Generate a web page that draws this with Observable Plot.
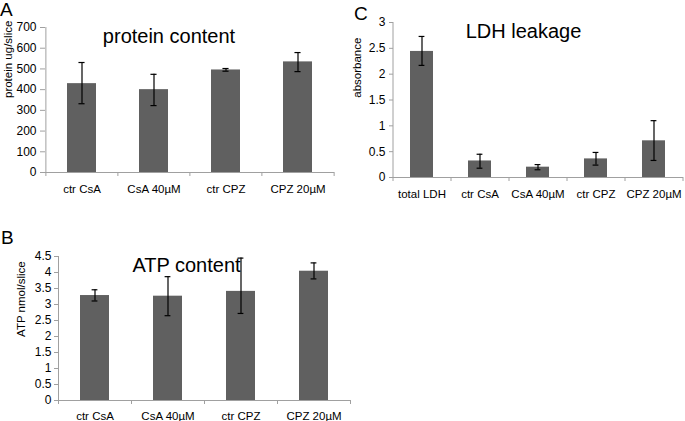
<!DOCTYPE html>
<html><head><meta charset="utf-8">
<script src="https://cdn.jsdelivr.net/npm/d3@7"></script>
<script src="https://cdn.jsdelivr.net/npm/@observablehq/plot@0.6"></script>
<style>
body{margin:0;background:#fff;}
#fig{position:relative;width:685px;height:421px;font-family:"Liberation Sans",Arial,sans-serif;overflow:hidden;background:#fff;}
.panel{position:absolute;}
.letter{position:absolute;font-size:19px;line-height:19px;color:#000;}
</style></head><body><div id="fig"></div>
<script>
// Panel A: protein content
const catsA = ["ctr CsA", "CsA 40µM", "ctr CPZ", "CPZ 20µM"];
const proteinMean = [429, 400, 495, 534];
const proteinLo = [332, 323, 489, 487];
const proteinHi = [531, 474, 502, 579];
const ticksA = [0, 100, 200, 300, 400, 500, 600, 700];

// Panel B: ATP content
const catsB = ["ctr CsA", "CsA 40µM", "ctr CPZ", "CPZ 20µM"];
const atpMean = [3.28, 3.26, 3.41, 4.04];
const atpLo = [3.11, 2.65, 2.72, 3.80];
const atpHi = [3.46, 3.87, 4.45, 4.30];
const ticksB = [0, 0.5, 1, 1.5, 2, 2.5, 3, 3.5, 4, 4.5];

// Panel C: LDH leakage
const catsC = ["total LDH", "ctr CsA", "CsA 40µM", "ctr CPZ", "CPZ 20µM"];
const ldhMean = [2.44, 0.32, 0.2, 0.36, 0.71];
const ldhLo = [2.17, 0.18, 0.15, 0.24, 0.33];
const ldhHi = [2.73, 0.45, 0.25, 0.485, 1.1];
const ticksC = [0, 0.5, 1, 1.5, 2, 2.5, 3];

const fig = document.getElementById("fig");

function panel(cfg) {
  const {cats, mean, lo, hi, yTicks, yLabel, title, left, top, width, height, ml, mr, mt, mb,
         titleDx, titleDy, labelDx, labelDy, labelPad, yTickSize, yTickPad} = cfg;
  const rows = cats.map((c, i) => ({cat: c, mean: mean[i], lo: lo[i], hi: hi[i]}));
  const n = cats.length;
  const step = (width - ml - mr) / n;
  const capInset = (0.4 * step - 6) / 2;
  const axisGray = "#a0a0a0";
  const p = Plot.plot({
    width, height,
    marginLeft: ml, marginRight: mr, marginTop: mt, marginBottom: mb,
    style: {fontFamily: '"Liberation Sans", Arial, sans-serif', fontSize: "12px", color: "#000", background: "transparent", overflow: "visible"},
    x: {domain: cats, paddingInner: 0.6, paddingOuter: 0.3},
    y: {domain: [0, yTicks[yTicks.length - 1]]},
    marks: [
      Plot.text([title], {frameAnchor: "top", dx: titleDx, dy: titleDy, lineAnchor: "bottom", fontSize: 20, fill: "#000"}),
      Plot.barY(rows, {x: "cat", y: "mean", fill: "#606060"}),
      Plot.ruleX(rows, {x: "cat", y1: "lo", y2: "hi", stroke: "#000", strokeWidth: 1.2}),
      Plot.tickY(rows, {x: "cat", y: "lo", stroke: "#000", strokeWidth: 1.2, insetLeft: capInset, insetRight: capInset}),
      Plot.tickY(rows, {x: "cat", y: "hi", stroke: "#000", strokeWidth: 1.2, insetLeft: capInset, insetRight: capInset}),
      Plot.ruleY([0], {stroke: axisGray}),
      Plot.ruleX([cats[0]], {dx: -step / 2, stroke: axisGray}),
      Plot.axisY({ticks: yTicks, tickSize: yTickSize, tickPadding: yTickPad, tickFormat: d => String(d), label: null, stroke: axisGray, fontSize: 12}),
      Plot.axisX({ticks: cats, tickSize: 4, dx: -step / 2, tickFormat: () => "", label: null, stroke: axisGray}),
      Plot.axisX({ticks: [cats[n - 1]], tickSize: 4, dx: step / 2, tickFormat: () => "", label: null, stroke: axisGray}),
      Plot.axisX({ticks: cats, tickSize: 0, tickPadding: labelPad, fontSize: 11.5, label: null}),
      Plot.text([yLabel], {frameAnchor: "left", rotate: -90, dx: labelDx, dy: labelDy, fontSize: 11.5, fill: "#000"})
    ]
  });
  p.classList.add("panel");
  p.style.left = left + "px";
  p.style.top = top + "px";
  fig.appendChild(p);
}

panel({cats: catsA, mean: proteinMean, lo: proteinLo, hi: proteinHi, yTicks: ticksA,
  yLabel: "protein ug/slice", title: "protein content",
  left: 0, top: 0, width: 340, height: 200, ml: 45, mr: 6, mt: 27, mb: 28,
  titleDx: -21, titleDy: 15.7, labelDx: -37.5, labelDy: -2, labelPad: 12, yTickSize: 5, yTickPad: 4});

panel({cats: catsC, mean: ldhMean, lo: ldhLo, hi: ldhHi, yTicks: ticksC,
  yLabel: "absorbance", title: "LDH leakage",
  left: 340, top: 0, width: 345, height: 210, ml: 53, mr: 2, mt: 22, mb: 33,
  titleDx: -15, titleDy: 15.3, labelDx: -36.5, labelDy: -2.3, labelPad: 12, yTickSize: 4, yTickPad: 4});

panel({cats: catsB, mean: atpMean, lo: atpLo, hi: atpHi, yTicks: ticksB,
  yLabel: "ATP nmol/slice", title: "ATP content",
  left: 0, top: 210, width: 360, height: 211, ml: 58, mr: 10, mt: 46, mb: 21,
  titleDx: -18, titleDy: 15.7, labelDx: -37, labelDy: 8.4, labelPad: 11.3, yTickSize: 4, yTickPad: 3});

for (const [t, l, tp] of [["A", 0, 0], ["C", 354, 4], ["B", 1, 227.5]]) {
  const d = document.createElement("div");
  d.className = "letter";
  d.textContent = t;
  d.style.left = l + "px";
  d.style.top = tp + "px";
  fig.appendChild(d);
}
</script></body></html>
